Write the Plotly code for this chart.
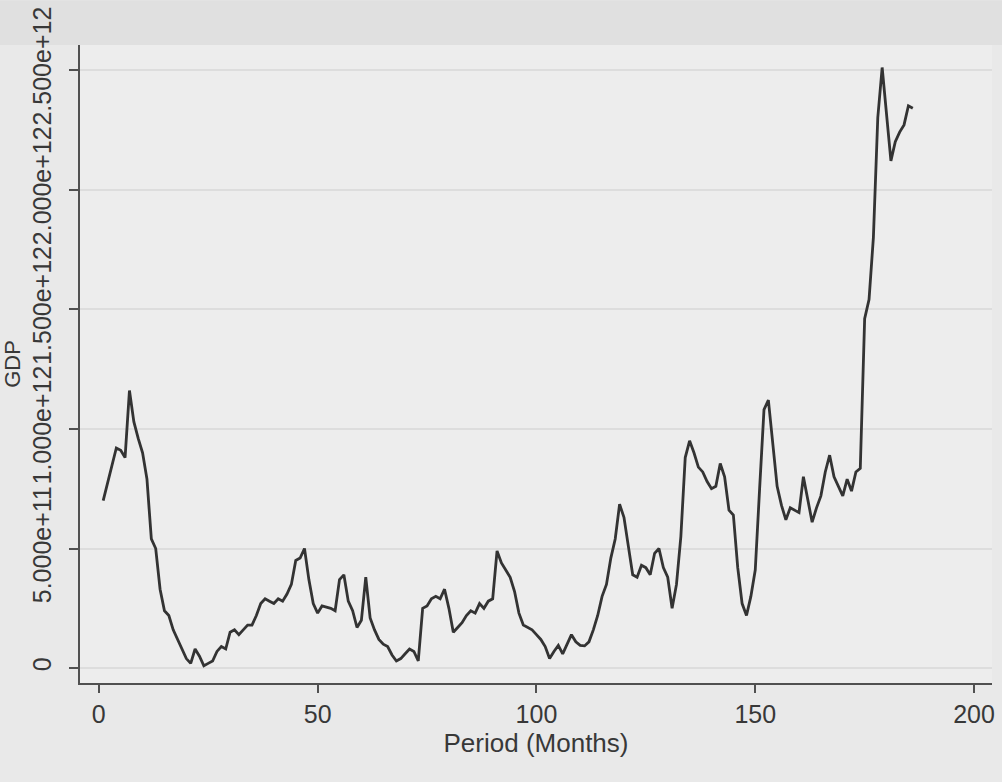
import plotly.graph_objects as go

# Monthly GDP, in trillions (1e12), periods 1..186
gdp_trillions = [
    0.70, 0.77, 0.85, 0.92, 0.91, 0.88, 1.16, 1.03, 0.96, 0.90,
    0.79, 0.54, 0.50, 0.33, 0.24, 0.22, 0.16, 0.12, 0.08, 0.04,
    0.02, 0.08, 0.05, 0.01, 0.02, 0.03, 0.07, 0.09, 0.08, 0.15,
    0.16, 0.14, 0.16, 0.18, 0.18, 0.22, 0.27, 0.29, 0.28, 0.27,
    0.29, 0.28, 0.31, 0.35, 0.45, 0.46, 0.50, 0.37, 0.27, 0.23,
    0.26, 0.255, 0.25, 0.24, 0.37, 0.39, 0.28, 0.24, 0.17, 0.20,
    0.38, 0.21, 0.16, 0.12, 0.10, 0.09, 0.055, 0.03, 0.04, 0.06,
    0.08, 0.07, 0.03, 0.25, 0.26, 0.29, 0.30, 0.29, 0.33, 0.25,
    0.15, 0.17, 0.19, 0.22, 0.24, 0.23, 0.27, 0.25, 0.28, 0.29,
    0.49, 0.44, 0.41, 0.38, 0.32, 0.23, 0.18, 0.17, 0.16, 0.14,
    0.12, 0.09, 0.04, 0.07, 0.095, 0.06, 0.10, 0.14, 0.11, 0.095,
    0.093, 0.11, 0.16, 0.22, 0.30, 0.35, 0.46, 0.54, 0.685, 0.63,
    0.51, 0.39, 0.38, 0.43, 0.42, 0.39, 0.48, 0.50, 0.42, 0.38,
    0.25, 0.35, 0.55, 0.88, 0.95, 0.90, 0.84, 0.82, 0.78, 0.75,
    0.76, 0.855, 0.80, 0.66, 0.64, 0.42, 0.27, 0.22, 0.30, 0.41,
    0.75, 1.08, 1.12, 0.93, 0.76, 0.68, 0.62, 0.67, 0.66, 0.65,
    0.80, 0.70, 0.61, 0.67, 0.72, 0.82, 0.89, 0.80, 0.76, 0.72,
    0.79, 0.74, 0.82, 0.835, 1.46, 1.54, 1.80, 2.30, 2.51, 2.30,
    2.12, 2.20, 2.24, 2.27, 2.35, 2.34,
]
period = list(range(1, len(gdp_trillions) + 1))
gdp = [v * 1e12 for v in gdp_trillions]

x_ticks = [0, 50, 100, 150, 200]
y_ticks = [0, 5e11, 1e12, 1.5e12, 2e12, 2.5e12]
y_tick_labels = ["0", "5.000e+11", "1.000e+12", "1.500e+12", "2.000e+12", "2.500e+12"]

text_color = "#383838"
axis_color = "#505050"
font_family = "Liberation Sans, Arial, sans-serif"

fig = go.Figure()
fig.add_trace(go.Scatter(
    x=period, y=gdp, mode="lines",
    line=dict(color="#333333", width=2.8),
    showlegend=False, hoverinfo="x+y",
))

# slightly darker band along the top edge of the page
fig.add_shape(
    type="rect", xref="paper", yref="paper",
    x0=-0.1, x1=1.02, y0=1.0, y1=1.07,
    fillcolor="#e0e0e0", line=dict(width=0), layer="below",
)

fig.update_layout(
    width=1002, height=782,
    margin=dict(l=80, r=7, t=40, b=99),
    paper_bgcolor="#e9e9e9",
    plot_bgcolor="#ededed",
    font=dict(family=font_family, size=25, color=text_color),
    xaxis=dict(
        range=[-4.3, 204.1],
        tickvals=x_ticks,
        ticks="outside", ticklen=8, tickwidth=1.5, tickcolor=axis_color,
        showline=True, linecolor=axis_color, linewidth=1.8,
        showgrid=False, zeroline=False,
        title=dict(text="Period (Months)", standoff=0, font=dict(size=26)),
        tickfont=dict(size=25),
    ),
    yaxis=dict(
        range=[-0.062e12, 2.604e12],
        tickvals=y_ticks, ticktext=y_tick_labels,
        tickangle=-90,
        ticks="outside", ticklen=9, tickwidth=1.5, tickcolor=axis_color,
        ticklabelstandoff=8,
        showline=True, linecolor=axis_color, linewidth=1.8,
        showgrid=True, gridcolor="#dddddd", gridwidth=1.5,
        zeroline=False,
        title=dict(text="GDP", standoff=2, font=dict(size=22)),
        tickfont=dict(size=25),
    ),
)

fig.write_html("out.html")
